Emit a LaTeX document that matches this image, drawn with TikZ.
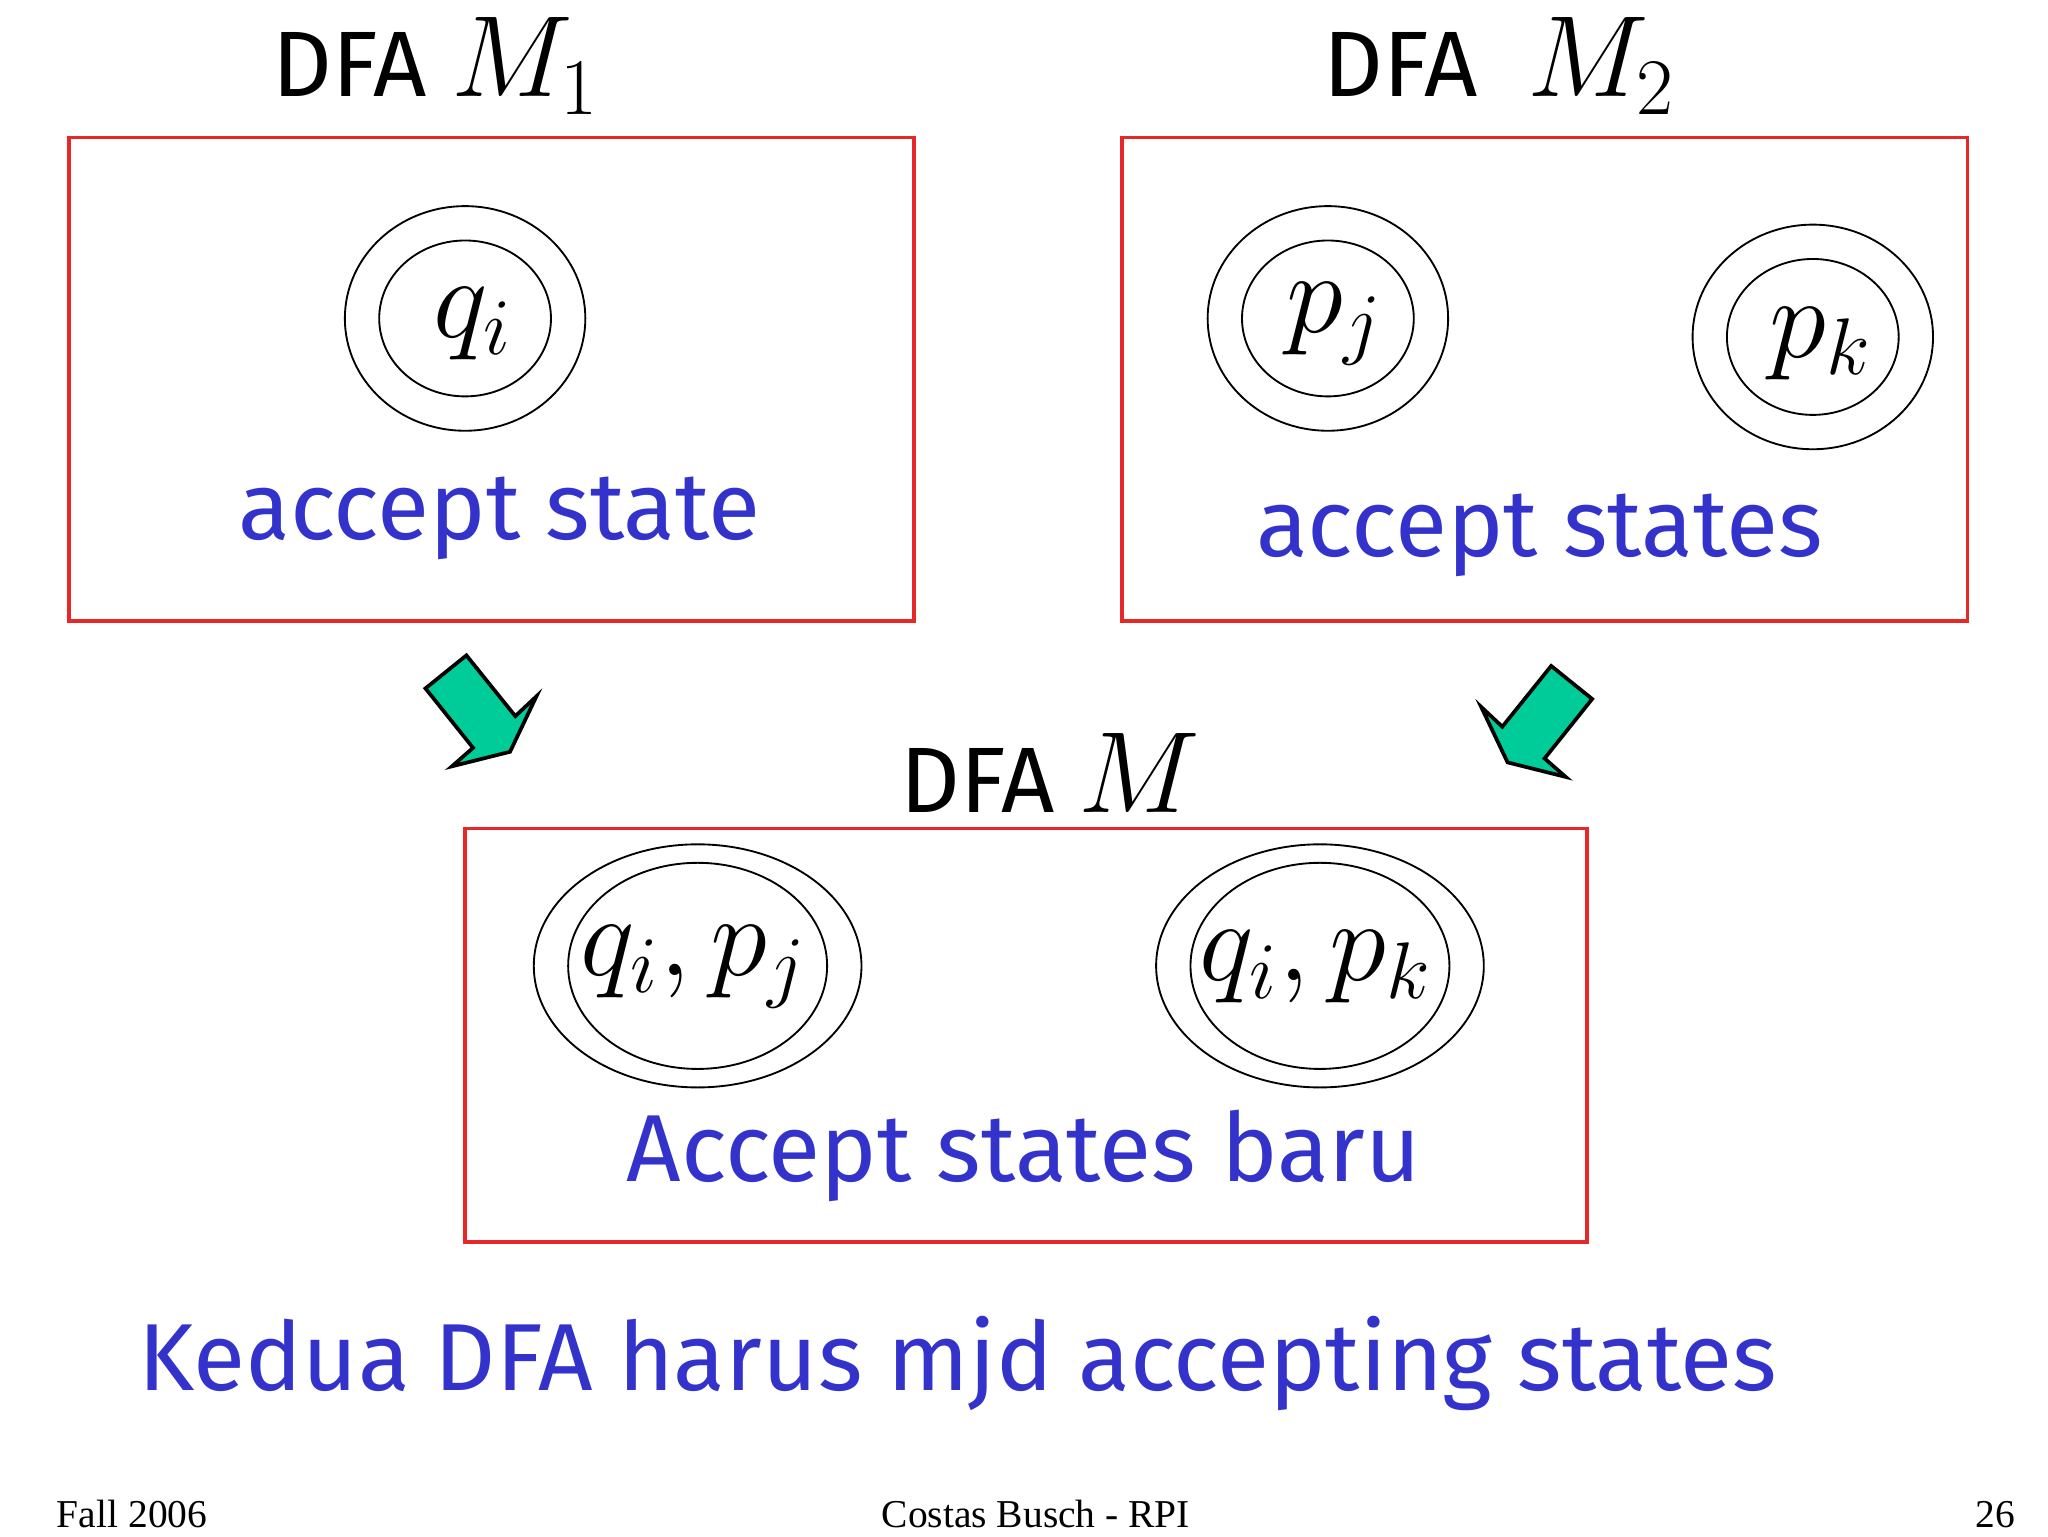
\documentclass[tikz,border=0pt]{standalone}
\usepackage{fontspec}
\setmainfont{Fira Sans}
\newfontfamily\footfont{Liberation Serif}
\usetikzlibrary{positioning}
\definecolor{boxred}{RGB}{230,40,40}
\definecolor{txtblue}{RGB}{51,51,204}
\definecolor{arrgreen}{RGB}{0,204,153}
\tikzset{
  box/.style = {draw=boxred, line width = 0.8pt},
  lbl/.style = {txtblue, font=\fontsize{20.5}{24}\selectfont},
  ttl/.style = {font=\fontsize{20}{24}\selectfont},
  foot/.style = {font=\footfont\fontsize{8.5}{10}\selectfont}
}
\newcommand{\mathbig}[1]{\fontsize{25}{30}\selectfont$#1$}
\begin{document}
\begin{tikzpicture}[x = 0.01cm, y = -0.01cm]
\useasboundingbox (0,0) rectangle (1550,1163);
% boxes
\draw[box] (52,104) rectangle (692,470);
\draw[box] (849,104) rectangle (1489,470);
\draw[box] (352,627) rectangle (1201,940);
% titles
\node[ttl] (t1) at (330,50) {DFA \mathbig{M_1}};
\node[ttl] (t2) at (1135,50) {DFA \ \mathbig{M_2}};
\node[ttl] (t3) at (795,585) {DFA \mathbig{M}};
% states
\draw (352,241) ellipse [x radius = 91, y radius = 85]
      (352,241) ellipse [x radius = 65, y radius = 59];
\node (qi) at (358,245) {\mathbig{q_i}};
\draw (1005,241) ellipse [x radius = 91, y radius = 85]
      (1005,241) ellipse [x radius = 65, y radius = 59];
\node (pj) at (1010,245) {\mathbig{p_j}};
\draw (1372,255) ellipse [x radius = 91, y radius = 85]
      (1372,255) ellipse [x radius = 65, y radius = 59];
\node (pk) at (1378,260) {\mathbig{p_k}};
\draw (528,731) ellipse [x radius = 124, y radius = 92]
      (528,731) ellipse [x radius = 98, y radius = 78];
\node (qipj) at (525,732) {\mathbig{q_i,p_j}};
\draw (999,731) ellipse [x radius = 124, y radius = 92]
      (999,731) ellipse [x radius = 98, y radius = 78];
\node (qipk) at (996,732) {\mathbig{q_i,p_k}};
% labels
\node[lbl] (l1) at (378,392) {accept state};
\node[lbl] (l2) at (1165,405) {accept states};
\node[lbl] (l3) at (775,875) {Accept states baru};
\node[lbl] (l4) at (725,1032) {Kedua DFA harus mjd accepting states};
% arrows
\draw[fill=arrgreen, line width = 0.8pt, line join = miter]
  (322,521) -- (353,496) -- (390,542) -- (406,527) -- (386,569) -- (342,580) -- (358,566) -- cycle;
\draw[fill=arrgreen, line width = 0.8pt, line join = miter]
  (1205,529) -- (1174,504) -- (1137,550) -- (1121,535) -- (1141,577) -- (1185,588) -- (1169,574) -- cycle;
% footer
\node[foot] (f1) at (100,1146) {Fall 2006};
\node[foot] (f2) at (784,1146) {Costas Busch - RPI};
\node[foot] (f3) at (1510,1146) {26};
\end{tikzpicture}
\end{document}
